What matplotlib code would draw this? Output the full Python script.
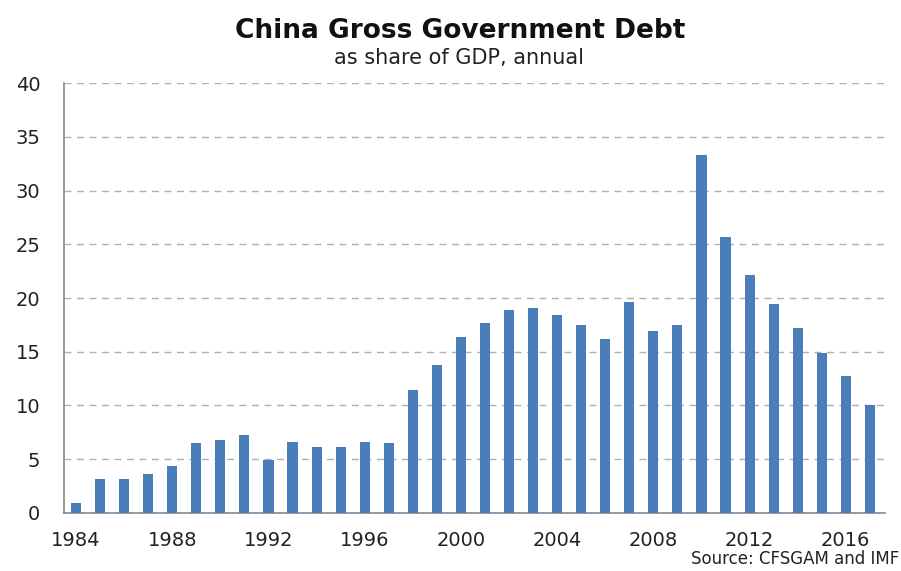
import numpy as np
import matplotlib
matplotlib.use('Agg')
import matplotlib.pyplot as plt

plt.rcParams['font.family'] = ['DejaVu Sans']

years = list(range(1984, 2018))
debt = [0.9, 3.2, 3.2, 3.6, 4.4, 6.5, 6.8, 7.3, 4.9, 6.6,
        6.1, 6.1, 6.6, 6.5, 11.4, 13.8, 16.4, 17.7, 18.9, 19.1,
        18.4, 17.5, 16.2, 19.6, 16.9, 17.5, 33.3, 25.7, 22.1, 19.4,
        17.2, 14.9, 12.7, 10.0]
xticks = [1984, 1988, 1992, 1996, 2000, 2004, 2008, 2012, 2016]
yticks = [0, 5, 10, 15, 20, 25, 30, 35, 40]

fig = plt.figure(figsize=(9.01, 5.71), dpi=100)
ax = fig.add_axes([0.071, 0.1016, 0.911, 0.753])

ax.bar(years, debt, width=0.42, color='#4A7EBB', zorder=3)

ax.set_xlim(1983.5, 2017.62)
ax.set_ylim(0, 40)
ax.set_xticks(xticks)
ax.set_yticks(yticks)
ax.tick_params(axis='both', labelsize=14, colors='#222222', length=0)
ax.tick_params(axis='x', pad=13)
ax.tick_params(axis='y', pad=17)
ax.yaxis.grid(True, linestyle=(0, (5, 4)), color='#b0b0b0', linewidth=1, zorder=0)

for s in ['top', 'right']:
    ax.spines[s].set_visible(False)
for s in ['left', 'bottom']:
    ax.spines[s].set_color('#888888')
    ax.spines[s].set_linewidth(1.2)

fig.text(0.511, 0.945, 'China Gross Government Debt', ha='center', va='center',
         fontsize=19, fontweight='bold', color='#111111')
fig.text(0.509, 0.898, 'as share of GDP, annual', ha='center', va='center',
         fontsize=15, color='#222222')
fig.text(0.998, 0.006, 'Source: CFSGAM and IMF', ha='right', va='bottom',
         fontsize=12, color='#222222')

fig.savefig('out.png', dpi=100)
